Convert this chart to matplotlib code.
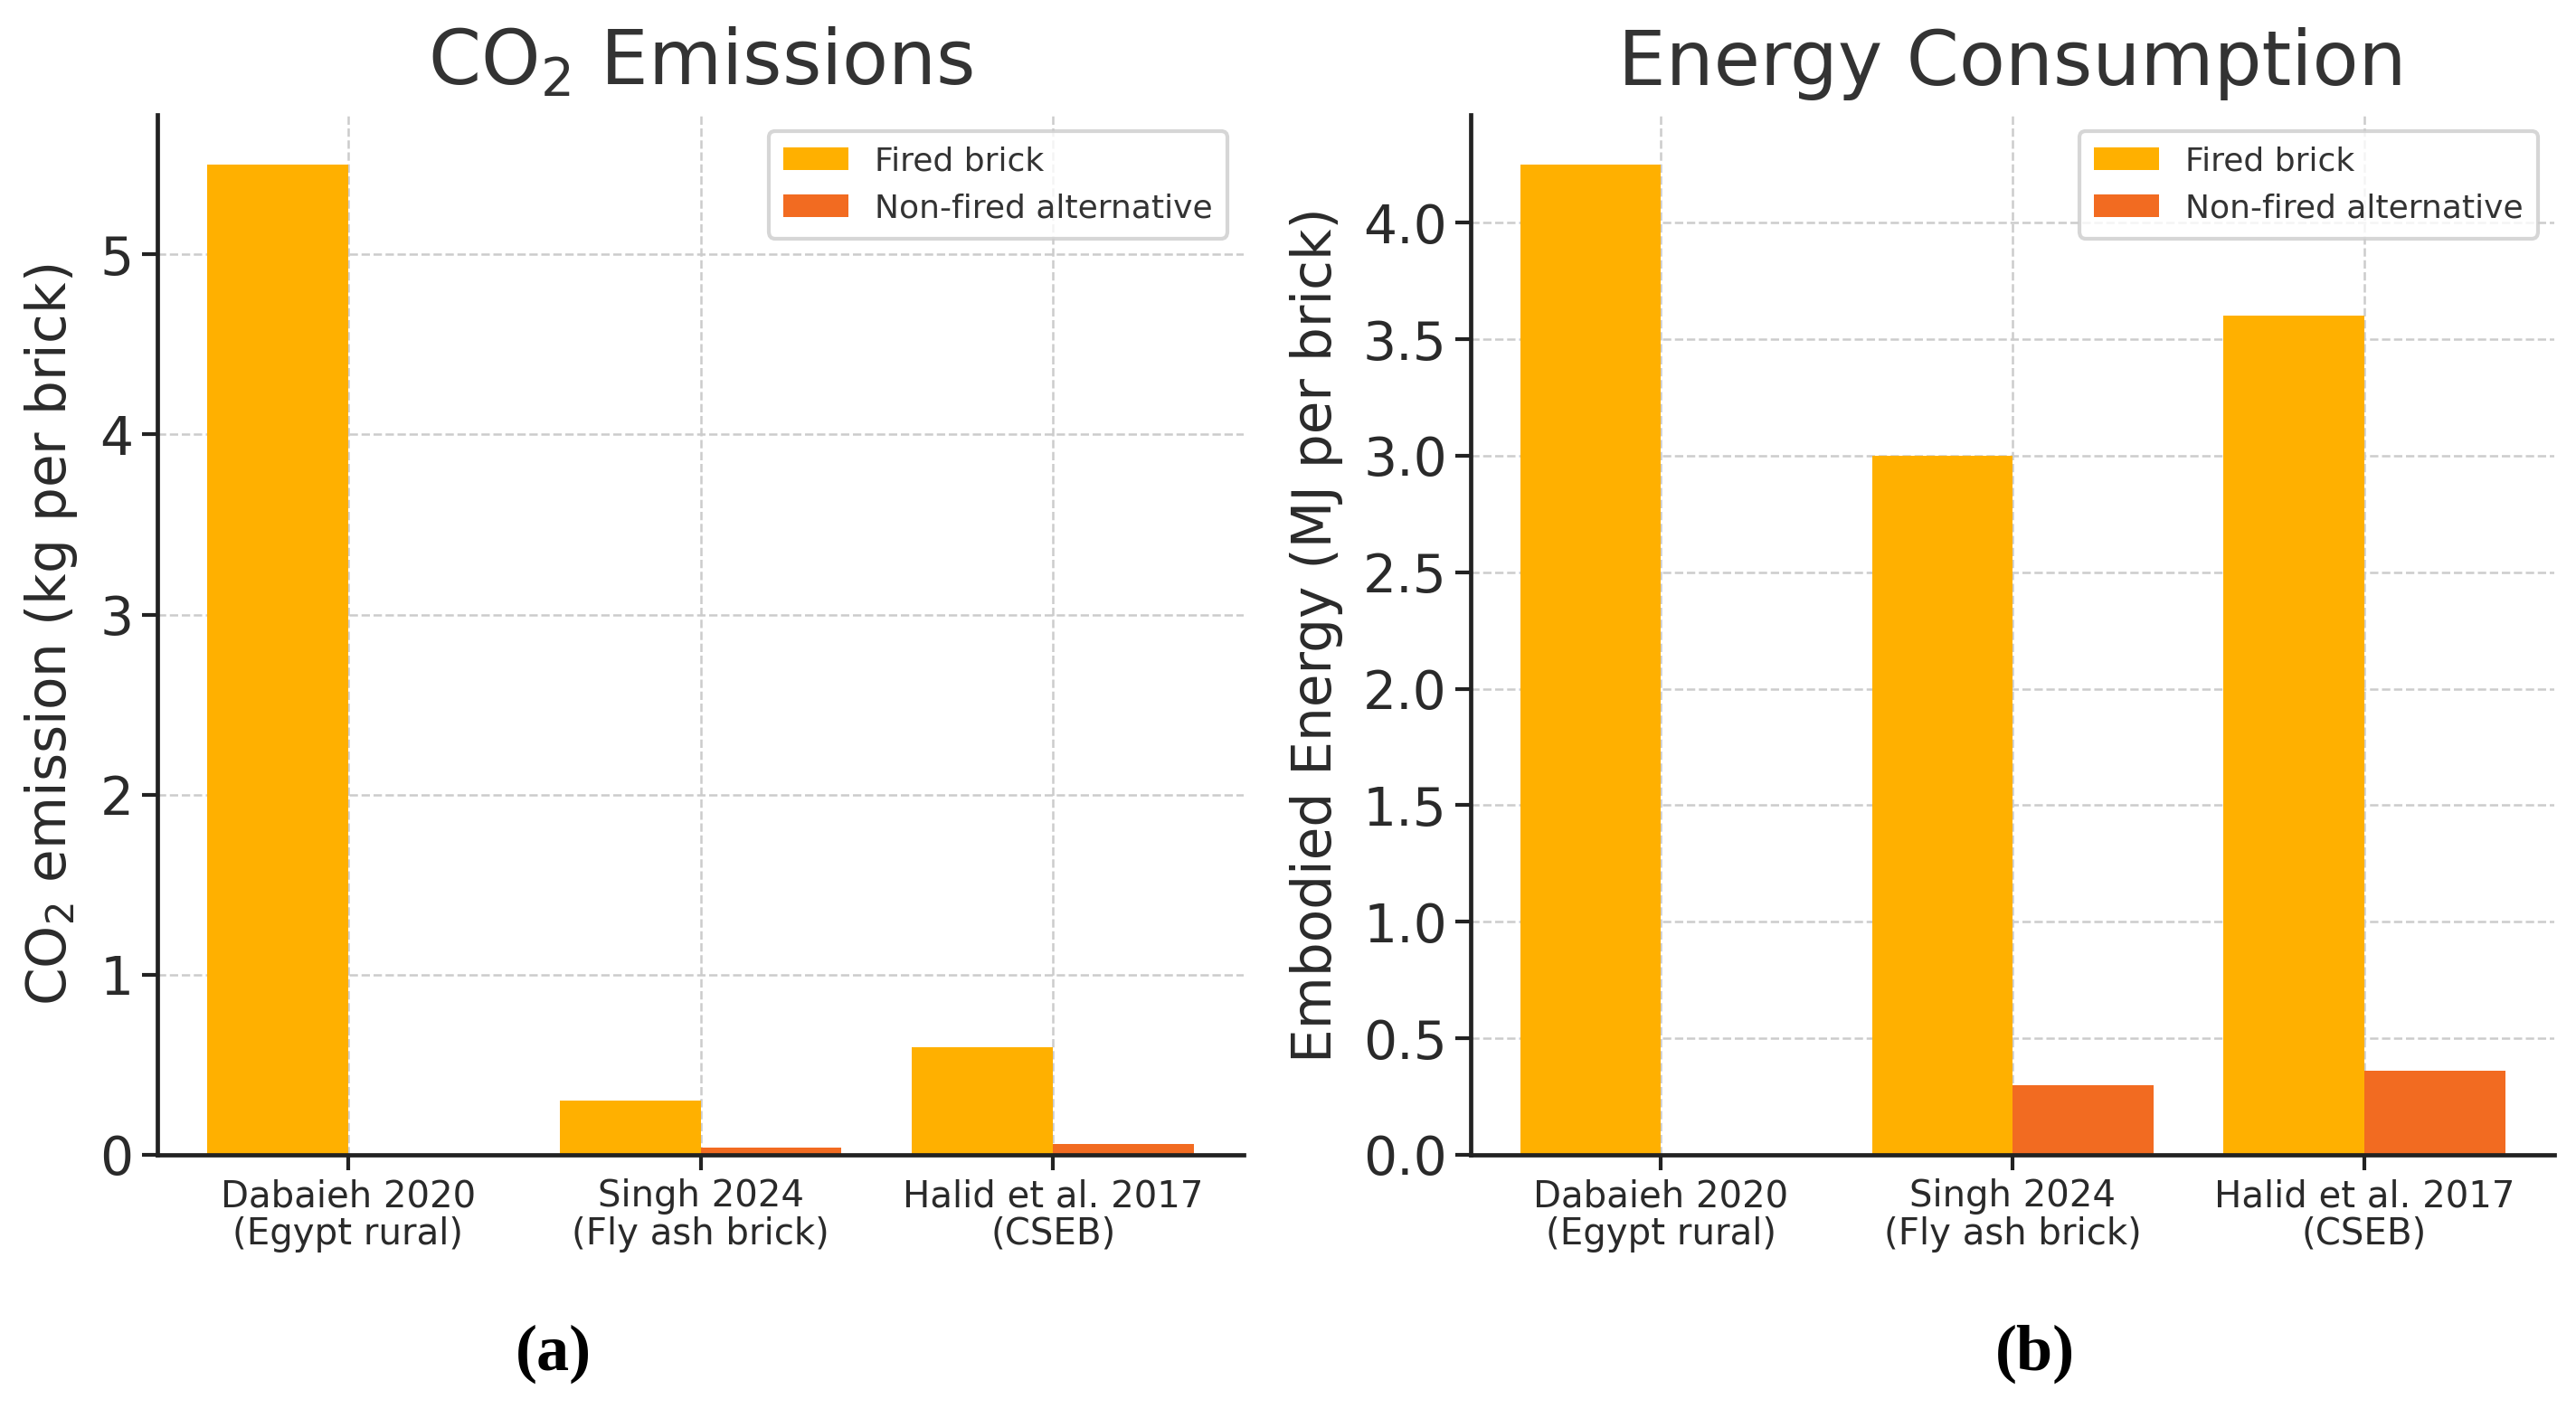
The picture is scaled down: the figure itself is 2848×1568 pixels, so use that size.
import numpy as np
import matplotlib
matplotlib.use("Agg")
import matplotlib.pyplot as plt

studies = ["Dabaieh 2020\n(Egypt rural)", "Singh 2024\n(Fly ash brick)", "Halid et al. 2017\n(CSEB)"]
co2_fired = [5.5, 0.3, 0.6]
co2_nonfired = [0.0, 0.04, 0.06]
energy_fired = [4.25, 3.0, 3.6]
energy_nonfired = [0.0, 0.3, 0.36]

fired_color = "#FFB000"
nonfired_color = "#F26B21"
text_color = "#2a2a2a"

plt.rcParams['font.family'] = ['DejaVu Sans']
plt.rcParams['mathtext.fontset'] = 'dejavusans'

fig = plt.figure(figsize=(14.24, 7.84), dpi=200)
ax1 = fig.add_axes([0.0611, 0.1856, 0.4217, 0.7334])
ax2 = fig.add_axes([0.5710, 0.1856, 0.4206, 0.7334])

x = np.arange(len(studies))
w = 0.4


def draw(ax, fired, nonfired, title, ylabel, yticks):
    ax.bar(x - w / 2, fired, w, color=fired_color, label="Fired brick", zorder=2)
    ax.bar(x + w / 2, nonfired, w, color=nonfired_color, label="Non-fired alternative", zorder=2)
    ax.set_xticks(x)
    ax.set_xticklabels(studies, fontsize=14.5, color=text_color, linespacing=1.05)
    ax.set_yticks(yticks)
    ax.tick_params(axis='y', labelsize=21, labelcolor=text_color, length=6, width=1.5, color='#222222')
    ax.tick_params(axis='x', length=6, width=1.5, color='#222222')
    ax.set_title(title, fontsize=30, color='#333333', pad=12)
    ax.set_ylabel(ylabel, fontsize=21.5, color=text_color, labelpad=8)
    ax.grid(True, linestyle='--', color='#cccccc', linewidth=0.9, zorder=0)
    ax.set_axisbelow(True)
    for s in ['top', 'right']:
        ax.spines[s].set_visible(False)
    for s in ['left', 'bottom']:
        ax.spines[s].set_linewidth(1.7)
        ax.spines[s].set_color('#222222')
    leg = ax.legend(loc='upper right', fontsize=13, frameon=True, fancybox=True,
                    handlelength=2.0, borderpad=0.45, labelspacing=0.5)
    leg.get_frame().set_edgecolor('#cccccc')
    leg.get_frame().set_linewidth(1.5)
    for t in leg.get_texts():
        t.set_color('#333333')


draw(ax1, co2_fired, co2_nonfired, "CO$_2$ Emissions", "CO$_2$ emission (kg per brick)", [0, 1, 2, 3, 4, 5])
draw(ax2, energy_fired, energy_nonfired, "Energy Consumption", "Embodied Energy (MJ per brick)",
     np.arange(0, 4.01, 0.5))
ax2.yaxis.set_major_formatter(matplotlib.ticker.FormatStrFormatter('%.1f'))

fig.text(0.215, 0.045, "(a)", fontsize=26, fontweight='bold', family='Liberation Serif', ha='center', va='center')
fig.text(0.790, 0.045, "(b)", fontsize=26, fontweight='bold', family='Liberation Serif', ha='center', va='center')

fig.savefig("out.png", dpi=200)
